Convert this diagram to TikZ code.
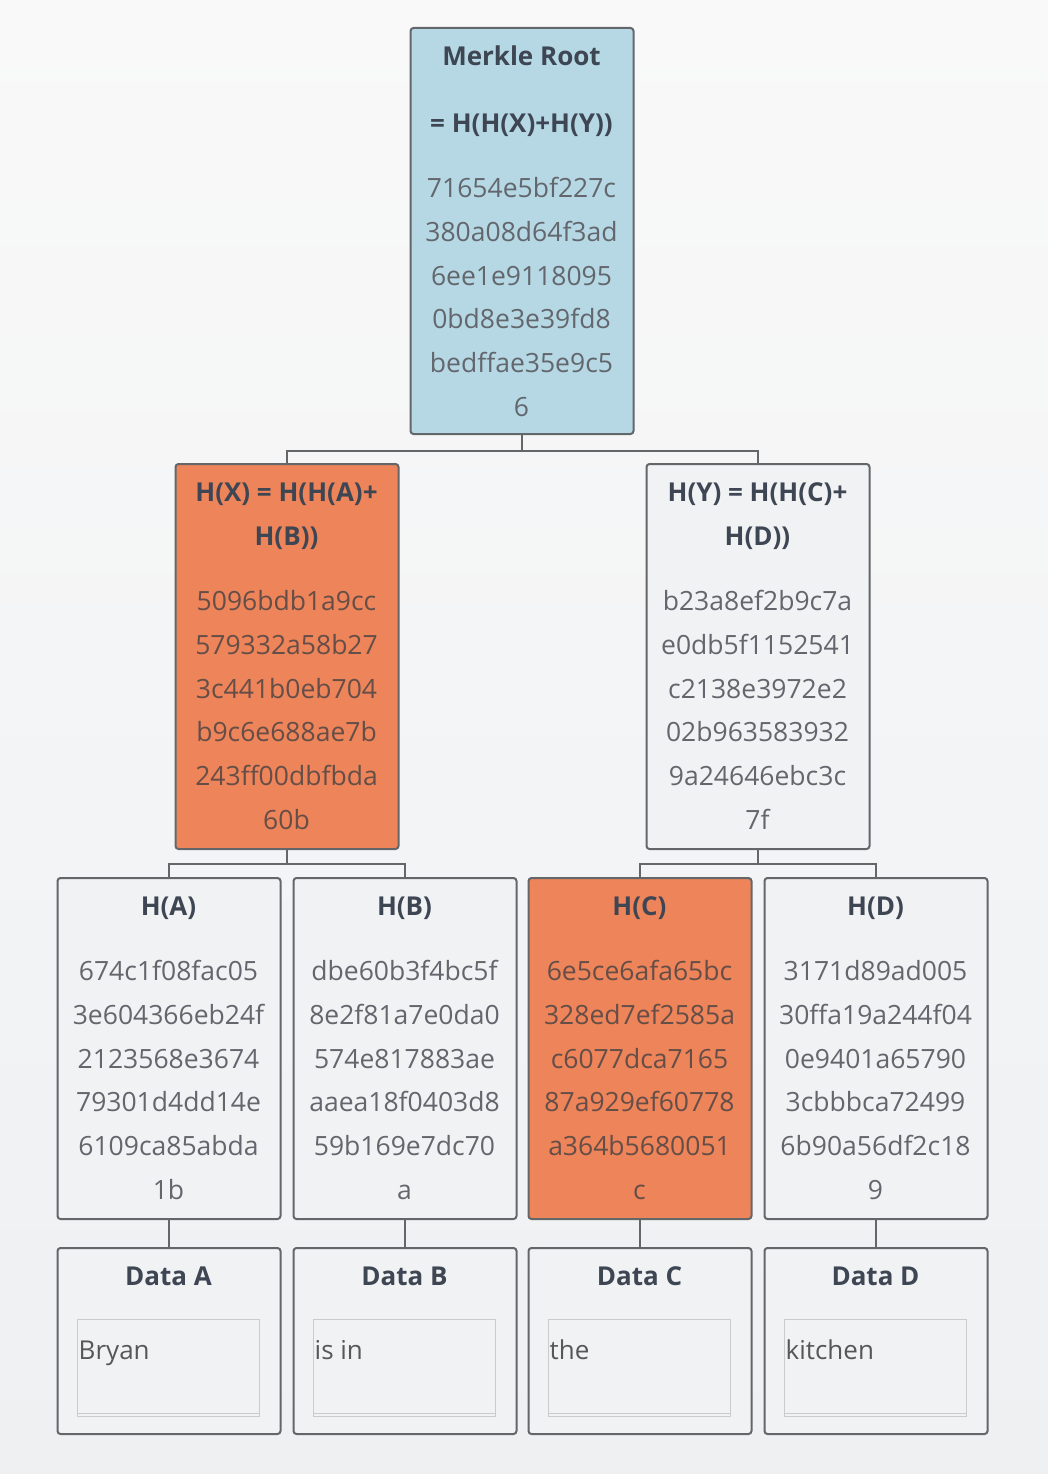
\documentclass[tikz,border=0pt]{standalone}
\usepackage{fontspec}
\setmainfont{Open Sans}
\usetikzlibrary{calc}
\definecolor{bgtop}{HTML}{F9F9F9}
\definecolor{bgbot}{HTML}{EEF0F2}
\definecolor{edge}{HTML}{63676A}
\definecolor{rootblue}{HTML}{B5D8E4}
\definecolor{hot}{HTML}{EE8459}
\definecolor{plain}{HTML}{F1F2F3}
\definecolor{titlec}{HTML}{3E4654}
\definecolor{hashc}{HTML}{63676D}
\definecolor{hashhot}{HTML}{654E47}
\definecolor{innerc}{HTML}{C9CBCC}
\definecolor{datac}{HTML}{555759}
\tikzset{
  box/.style={draw=edge, line width=2pt, rounded corners=3pt, minimum width=223pt, inner sep=0pt, anchor=north west},
  ttl/.style={font=\bfseries\fontsize{26}{30}\selectfont, text=titlec, inner sep=0pt, text height=18.5pt, text depth=0pt},
  hash/.style={font=\fontsize{26.5}{30}\selectfont, text=hashc, inner sep=0pt, text height=19pt, text depth=0pt},
  hashh/.style={hash, text=hashhot},
  inner/.style={draw=innerc, line width=0.9pt, minimum width=182pt, minimum height=97pt, inner sep=0pt, anchor=north west},
  datatxt/.style={font=\fontsize{26}{30}\selectfont, text=datac, inner sep=0pt, text height=18.5pt, text depth=0pt, anchor=west},
  link/.style={draw=edge, line width=2pt}
}
\newcommand{\hashcol}[5]{% name, x, y0, style, list
  \foreach \t [count=\i] in {#5} {
    \node[#4] (#1-\i) at (#2, {#3+(\i-1)*43.8}) {\t};
  }
}
\begin{document}
\begin{tikzpicture}[x=1pt,y=-1pt]
\shade[top color=bgtop, bottom color=bgbot] (0,0) rectangle (1048,1474);
\useasboundingbox (0,0) rectangle (1048,1474);

% boxes
\node[box, fill=rootblue, minimum height=406pt] (root) at (409.5,27) {};
\node[box, fill=hot, minimum height=385pt] (hx) at (174.5,463) {};
\node[box, fill=plain, minimum height=385pt] (hy) at (645.5,463) {};
\node[box, fill=plain, minimum height=341pt] (ha) at (56.5,877) {};
\node[box, fill=plain, minimum height=341pt] (hb) at (292.5,877) {};
\node[box, fill=hot, minimum height=341pt] (hc) at (527.5,877) {};
\node[box, fill=plain, minimum height=341pt] (hd) at (763.5,877) {};
\node[box, fill=plain, minimum height=186pt] (da) at (56.5,1247) {};
\node[box, fill=plain, minimum height=186pt] (db) at (292.5,1247) {};
\node[box, fill=plain, minimum height=186pt] (dc) at (527.5,1247) {};
\node[box, fill=plain, minimum height=186pt] (dd) at (763.5,1247) {};

% connectors
\draw[link] (root.south) -- ++(0,16) coordinate (j0);
\draw[link] (j0) -| (hx.north);
\draw[link] (j0) -| (hy.north);
\draw[link] (hx.south) -- ++(0,14) coordinate (j1);
\draw[link] (j1) -| (ha.north);
\draw[link] (j1) -| (hb.north);
\draw[link] (hy.south) -- ++(0,14) coordinate (j2);
\draw[link] (j2) -| (hc.north);
\draw[link] (j2) -| (hd.north);
\draw[link] (ha.south) -- (da.north);
\draw[link] (hb.south) -- (db.north);
\draw[link] (hc.south) -- (dc.north);
\draw[link] (hd.south) -- (dd.north);

% root text
\node[ttl] (rt1) at (521.5,56) {Merkle Root};
\node[ttl] (rt2) at (521.5,123) {= H(H(X)+H(Y))};
\hashcol{rh}{521.5}{188}{hash}{71654e5bf227c,380a08d64f3ad,6ee1e9118095,0bd8e3e39fd8,bedffae35e9c5,6}

% level 2
\node[ttl] (xt1) at (286.5,492) {H(X) = H(H(A)+};
\node[ttl] (xt2) at (286.5,536) {H(B))};
\hashcol{xh}{286.5}{601}{hashh}{5096bdb1a9cc,579332a58b27,3c441b0eb704,b9c6e688ae7b,243ff00dbfbda,60b}
\node[ttl] (yt1) at (757.5,492) {H(Y) = H(H(C)+};
\node[ttl] (yt2) at (757.5,536) {H(D))};
\hashcol{yh}{757.5}{601}{hash}{b23a8ef2b9c7a,e0db5f1152541,c2138e3972e2,02b963583932,9a24646ebc3c,7f}

% level 3
\node[ttl] (at) at (168.5,906) {H(A)};
\hashcol{ah}{168.5}{971}{hash}{674c1f08fac05,3e604366eb24f,2123568e3674,79301d4dd14e,6109ca85abda,1b}
\node[ttl] (bt) at (404.5,906) {H(B)};
\hashcol{bh}{404.5}{971}{hash}{dbe60b3f4bc5f,8e2f81a7e0da0,574e817883ae,aaea18f0403d8,59b169e7dc70,a}
\node[ttl] (ct) at (639.5,906) {H(C)};
\hashcol{ch}{639.5}{971}{hashh}{6e5ce6afa65bc,328ed7ef2585a,c6077dca7165,87a929ef60778,a364b5680051,c}
\node[ttl] (dt) at (875.5,906) {H(D)};
\hashcol{dh}{875.5}{971}{hash}{3171d89ad005,30ffa19a244f04,0e9401a65790,3cbbbca72499,6b90a56df2c18,9}

% data boxes
\node[ttl] (dat) at (168.5,1276) {Data A};
\node[ttl] (dbt) at (404.5,1276) {Data B};
\node[ttl] (dct) at (639.5,1276) {Data C};
\node[ttl] (ddt) at (875.5,1276) {Data D};
\foreach \n/\x/\w in {ia/77/Bryan, ib/313/is in, ic/548/the, id/784/kitchen} {
  \node[inner] (\n) at (\x,1319) {};
  \draw[draw=innerc, line width=0.9pt] ($(\n.south west)+(0,-3)$) -- ($(\n.south east)+(0,-3)$);
  \node[datatxt] (\n-t) at (\x+1.5,1350) {\w};
}
\end{tikzpicture}
\end{document}
